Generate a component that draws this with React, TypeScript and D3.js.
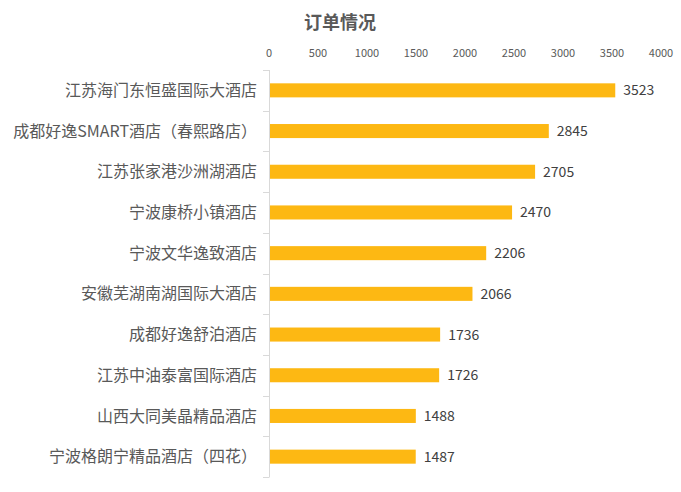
import * as d3 from "d3"

const hotels = [
  "江苏海门东恒盛国际大酒店",
  "成都好逸SMART酒店（春熙路店）",
  "江苏张家港沙洲湖酒店",
  "宁波康桥小镇酒店",
  "宁波文华逸致酒店",
  "安徽芜湖南湖国际大酒店",
  "成都好逸舒泊酒店",
  "江苏中油泰富国际酒店",
  "山西大同美晶精品酒店",
  "宁波格朗宁精品酒店（四花）",
]
const orders = [3523, 2845, 2705, 2470, 2206, 2066, 1736, 1726, 1488, 1487]
const xTicks = [0, 500, 1000, 1500, 2000, 2500, 3000, 3500, 4000]

const W = 681
const H = 492
const margin = { top: 70, bottom: 477, left: 269 }
const FONT = "'Noto Sans CJK SC', 'Noto Sans', sans-serif"

export default function App() {
  const x = d3.scaleLinear().domain([0, 4000]).range([margin.left, 661])
  const y = d3
    .scaleBand<string>()
    .domain(hotels)
    .range([margin.top, margin.bottom])
    .paddingInner(0.655)
    .paddingOuter(0.3275)
  const step = y.step()
  const bh = y.bandwidth()

  return (
    <svg
      width={W}
      height={H}
      style={{ position: "absolute", left: 0, top: 0, background: "#fff" }}
      fontFamily={FONT}
    >
      <text x={340} y={29} textAnchor="middle" fontSize={18} fontWeight="bold" fill="#595959">
        订单情况
      </text>
      {xTicks.map((t) => (
        <text key={t} x={x(t)} y={57} textAnchor="middle" fontSize={11} fill="#595959">
          {t}
        </text>
      ))}
      {/* category axis */}
      <line x1={269.5} x2={269.5} y1={margin.top} y2={margin.bottom} stroke="#d9d9d9" />
      {d3.range(hotels.length + 1).map((i) => {
        const b = Math.round(margin.top + i * step) + 0.5
        return <line key={i} x1={263} x2={269.5} y1={b} y2={b} stroke="#d9d9d9" />
      })}
      {hotels.map((h, i) => {
        const top = y(h)!
        const cy = top + bh / 2
        return (
          <g key={h}>
            <rect x={x(0) + 1} y={top} width={x(orders[i]) - x(0)} height={bh} fill="#FDB813" />
            <text x={257} y={cy} dy="0.35em" textAnchor="end" fontSize={16} fill="#595959">
              {h}
            </text>
            <text x={x(orders[i]) + 9} y={cy} dy="0.36em" fontSize={14} fill="#404040">
              {orders[i]}
            </text>
          </g>
        )
      })}
    </svg>
  )
}
